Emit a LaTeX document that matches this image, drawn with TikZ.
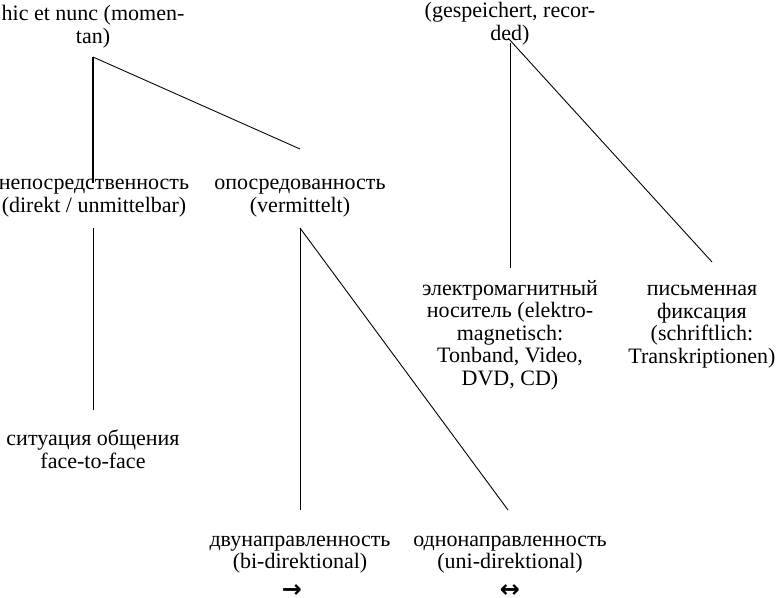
\documentclass[tikz,border=0pt]{standalone}
\usepackage{fontspec}
\setmainfont{Liberation Serif}
\newfontfamily\arrowfont{DejaVu Sans}
\begin{document}
\begin{tikzpicture}[x=1pt,y=-1pt,
  lbl/.style={align=center, inner sep=0pt, anchor=base, font=\fontsize{22}{22.4}\selectfont},
  ln/.style={line width=0.9pt},
  thk/.style={line width=2.2pt}]
\useasboundingbox (0,0) rectangle (776,597);
% nodes (anchor = baseline of the last line)
\node[lbl] (hic)  at (93,43)  {hic et nunc (momen-\\tan)};
\node[lbl] (gesp) at (510,40) {(gespeichert, recor-\\ded)};
\node[lbl] (nepo) at (94,212) {непосредственность\\(direkt / unmittelbar)};
\node[lbl] (opos) at (300,212) {опосредованность\\(vermittelt)};
\node[lbl] (situ) at (93,468) {ситуация общения\\face-to-face};
\node[lbl] (dvu)  at (300,597) {двунаправленность\\(bi-direktional)\\[6pt]{\hspace*{-16pt}\arrowfont\bfseries\fontsize{24}{24}\selectfont →}};
\node[lbl] (odno) at (510,597) {однонаправленность\\(uni-direktional)\\[6pt]{\arrowfont\bfseries\fontsize{24}{24}\selectfont ↔}};
\node[lbl] (elek) at (510,385) {электромагнитный\\носитель (elektro-\\magnetisch:\\Tonband, Video,\\DVD, CD)};
\node[lbl] (pism) at (702,363) {письменная\\фиксация\\(schriftlich:\\Transkriptionen)};
% line end points
\coordinate (v1) at (93,57);
\coordinate (v1a) at (93,183);
\coordinate (v1b) at (300,149);
\coordinate (n1) at (93,228);
\coordinate (n2) at (93,410);
\coordinate (o1) at (300,228);
\coordinate (o2) at (300,510);
\coordinate (o3) at (508,510);
\coordinate (g1) at (508,38);
\coordinate (g2) at (510,43);
\coordinate (g3) at (510,268);
\coordinate (g4) at (712,262);
% connectors
\draw[thk] (v1) -- (v1a);
\draw[ln] (v1) -- (v1b);
\draw[ln] (n1) -- (n2);
\draw[ln] (o1) -- (o2);
\draw[ln] (o1) -- (o3);
\draw[ln] (g2) -- (g3);
\draw[ln] (g1) -- (g4);
\end{tikzpicture}
\end{document}
